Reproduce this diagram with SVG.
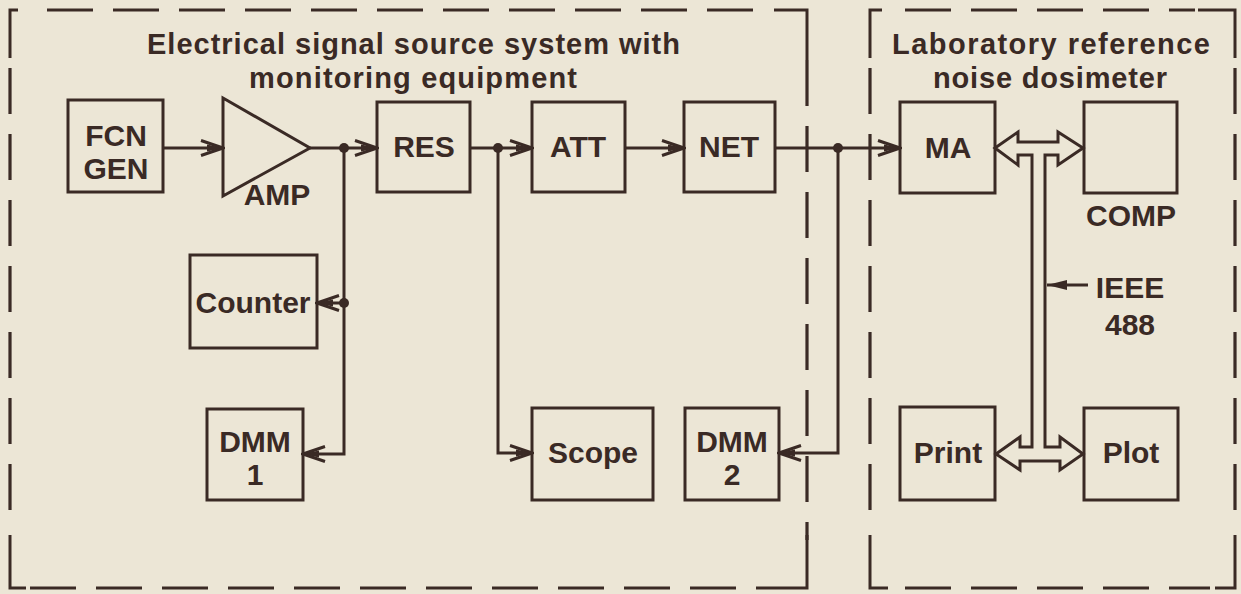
<svg xmlns="http://www.w3.org/2000/svg" width="1241" height="594" viewBox="0 0 1241 594">
<style>
.bg{fill:#ece6d6}
.box{fill:none;stroke:#3a2a25;stroke-width:3}
.ln{fill:none;stroke:#3a2a25;stroke-width:3}
.dash{fill:none;stroke:#3a2a25;stroke-width:3.2;stroke-dasharray:46 20}
.t{font-family:"Liberation Sans",Arial,Helvetica,sans-serif;font-weight:bold;font-size:30px;fill:#3a2a25;text-anchor:middle}
.h{font-family:"Liberation Sans",Arial,Helvetica,sans-serif;font-weight:bold;font-size:29px;fill:#3a2a25}
.dot{fill:#3a2a25}
</style>
<defs>
<marker id="arr" markerUnits="userSpaceOnUse" viewBox="-26 -12 28 24" refX="0" refY="0" markerWidth="28" markerHeight="24" orient="auto">
<path d="M-22,-7.5 L0,0 L-22,7.5" fill="none" stroke="#3a2a25" stroke-width="3"/>
<path d="M-16,-3.5 L0,0 L-16,3.5 Z" fill="#3a2a25"/>
</marker>
<marker id="arrS" markerUnits="userSpaceOnUse" viewBox="-24 -10 26 20" refX="0" refY="0" markerWidth="26" markerHeight="20" orient="auto">
<path d="M-20,-5 L0,0 L-20,5 Z" fill="#3a2a25"/>
</marker>
</defs>
<rect class="bg" x="0" y="0" width="1241" height="594"/>

<g id="frames">
<path class="dash" d="M47,10 H772"/>
<path class="dash" d="M807,60 V540"/>
<path class="dash" d="M10,68 V530"/>
<path class="dash" d="M30,588 H790"/>
<path class="ln" d="M10,58 V10 H18"/>
<path class="ln" d="M774,10 H807 V60"/>
<path class="ln" d="M10,535 V588 H26"/>
<path class="ln" d="M790,588 H807 V535"/>
<path class="dash" d="M905,10 H1195"/>
<path class="dash" d="M870,68 V530"/>
<path class="dash" d="M1235,68 V530"/>
<path class="dash" d="M905,588 H1210"/>
<path class="ln" d="M870,58 V10 H882"/>
<path class="ln" d="M1198,10 H1235 V58"/>
<path class="ln" d="M870,535 V588 H888"/>
<path class="ln" d="M1215,588 H1235 V535"/>
<text class="h" x="147" y="54" textLength="533">Electrical signal source system with</text>
<text class="h" x="249" y="88" textLength="328">monitoring equipment</text>
<text class="h" x="892" y="54" textLength="318">Laboratory reference</text>
<text class="h" x="933" y="88" textLength="234">noise dosimeter</text>
</g>

<g id="connectors">
<path class="ln" d="M163,148 H223" marker-end="url(#arr)"/>
<path class="ln" d="M310,148 H377" marker-end="url(#arr)"/>
<path class="ln" d="M344,148 V454 H303" marker-end="url(#arr)"/>
<path class="ln" d="M344,303 H317" marker-end="url(#arr)"/>
<path class="ln" d="M470,148 H532" marker-end="url(#arr)"/>
<path class="ln" d="M498,148 V453 H532" marker-end="url(#arr)"/>
<path class="ln" d="M625,148 H684" marker-end="url(#arr)"/>
<path class="ln" d="M775,148 H900" marker-end="url(#arr)"/>
<path class="ln" d="M838,148 V453 H779" marker-end="url(#arr)"/>
<circle class="dot" cx="344" cy="148" r="5"/>
<circle class="dot" cx="344" cy="303" r="5"/>
<circle class="dot" cx="498" cy="148" r="5"/>
<circle class="dot" cx="838" cy="148" r="5"/>
<path id="bus" class="ln" stroke-linejoin="miter" d="M995,148 L1018,132 V142 H1058 V132 L1083,148 L1058,165 V155 H1045 V447 H1060 V437 L1083,454 L1060,470 V461 H1020 V470 L996,454 L1020,437 V447 H1032 V155 H1018 V165 Z"/>
<path class="ln" d="M1088,285 H1047" marker-end="url(#arrS)" stroke-width="2.5"/>
<text class="t" x="1130" y="298">IEEE</text>
<text class="t" x="1130" y="335">488</text>
</g>

<g id="fcngen"><rect class="box" x="68" y="100" width="95" height="92"/><text class="t" x="116" y="146">FCN</text><text class="t" x="116" y="179">GEN</text></g>
<g id="amp"><path class="box" stroke-linejoin="miter" d="M223,98 L310,148 L223,196 Z"/><text class="t" x="277" y="205">AMP</text></g>
<g id="res"><rect class="box" x="377" y="102" width="93" height="90"/><text class="t" x="424" y="157">RES</text></g>
<g id="att"><rect class="box" x="532" y="102" width="93" height="90"/><text class="t" x="578" y="157">ATT</text></g>
<g id="net"><rect class="box" x="684" y="102" width="91" height="90"/><text class="t" x="729" y="157">NET</text></g>
<g id="counter"><rect class="box" x="190" y="255" width="127" height="93"/><text class="t" x="253" y="313">Counter</text></g>
<g id="dmm1"><rect class="box" x="207" y="409" width="96" height="91"/><text class="t" x="255" y="452">DMM</text><text class="t" x="255" y="485">1</text></g>
<g id="scope"><rect class="box" x="532" y="408" width="121" height="92"/><text class="t" x="593" y="463">Scope</text></g>
<g id="dmm2"><rect class="box" x="685" y="408" width="94" height="92"/><text class="t" x="732" y="452">DMM</text><text class="t" x="732" y="485">2</text></g>
<g id="ma"><rect class="box" x="900" y="102" width="95" height="91"/><text class="t" x="948" y="158">MA</text></g>
<g id="comp"><rect class="box" x="1084" y="102" width="93" height="91"/><text class="t" x="1131" y="226">COMP</text></g>
<g id="print"><rect class="box" x="900" y="407" width="95" height="93"/><text class="t" x="948" y="463">Print</text></g>
<g id="plot"><rect class="box" x="1084" y="408" width="94" height="92"/><text class="t" x="1131" y="463">Plot</text></g>
</svg>
